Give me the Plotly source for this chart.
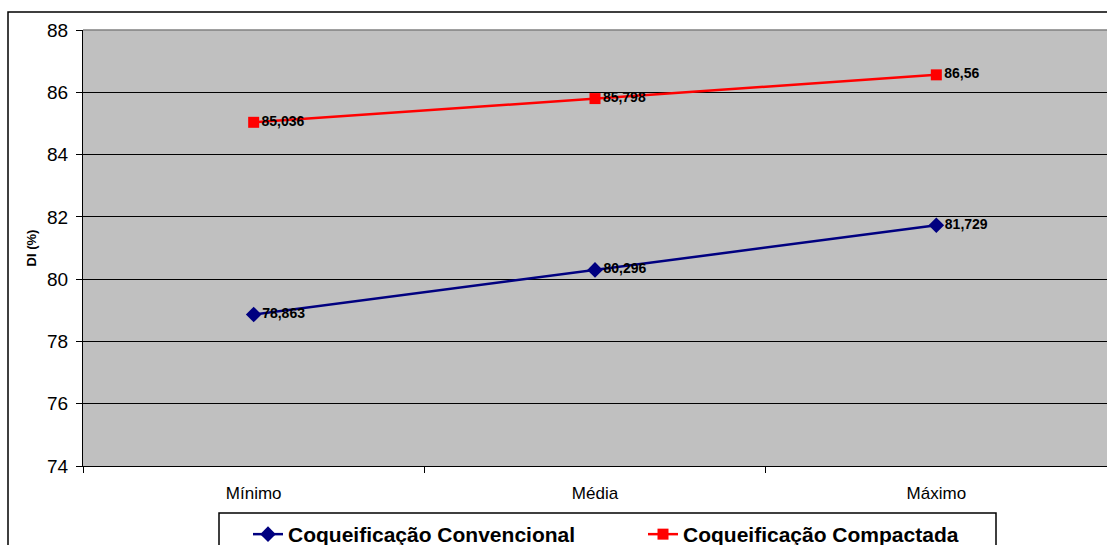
import plotly.graph_objects as go

# Categories and DI (%) values for the two coking processes
categories = ["Mínimo", "Média", "Máximo"]
convencional = [78.863, 80.296, 81.729]
compactada = [85.036, 85.798, 86.56]
series_names = ["Coqueificação Convencional", "Coqueificação Compactada"]
y_ticks = [74, 76, 78, 80, 82, 84, 86, 88]


def br(v):
    return f"{v}".replace(".", ",")


FONT = "Liberation Sans, Arial, sans-serif"

fig = go.Figure()
fig.add_trace(go.Scatter(
    x=categories, y=convencional, name=series_names[0],
    mode="lines+markers+text",
    line=dict(color="#000080", width=2.5),
    marker=dict(symbol="diamond", size=12, color="#000080"),
    text=[br(v) for v in convencional], textposition="middle right",
    textfont=dict(family=FONT, size=14, color="black", weight="bold"),
))
fig.add_trace(go.Scatter(
    x=categories, y=compactada, name=series_names[1],
    mode="lines+markers+text",
    line=dict(color="#FF0000", width=2.5),
    marker=dict(symbol="square", size=11, color="#FF0000"),
    text=[br(v) for v in compactada], textposition="middle right",
    textfont=dict(family=FONT, size=14, color="black", weight="bold"),
))

L, T, W, H = 83, 30, 1107, 545
pw, ph = W - L, 466 - T

fig.update_layout(
    width=W, height=H,
    margin=dict(l=L, r=0, t=T, b=H - 466, autoexpand=False),
    paper_bgcolor="white",
    plot_bgcolor="#C0C0C0",
    font=dict(family=FONT, color="black"),
    showlegend=True,
    legend=dict(
        orientation="h",
        x=(248 - L) / pw, xanchor="left",
        y=(466 - 514) / ph, yanchor="top",
        bgcolor="rgba(0,0,0,0)", borderwidth=0,
        font=dict(family=FONT, size=21, color="black", weight="bold"),
        entrywidth=350,
    ),
    xaxis=dict(
        type="category", range=[-0.5, 2.5],
        tickson="boundaries", ticks="outside", ticklen=6, tickcolor="black",
        showline=True, linecolor="black", linewidth=1,
        showgrid=False, automargin=False,
        tickfont=dict(family=FONT, size=17, color="black"),
        ticklabelstandoff=12,
    ),
    yaxis=dict(
        range=[74, 88], tickvals=y_ticks,
        ticks="outside", ticklen=6, tickcolor="black",
        showline=True, linecolor="black", linewidth=1,
        showgrid=True, gridcolor="black", gridwidth=1,
        zeroline=False, automargin=False,
        tickfont=dict(family=FONT, size=19, color="black"),
        ticklabelstandoff=4,
        title=dict(text="DI (%)", standoff=7,
                   font=dict(family=FONT, size=13, color="black", weight="bold")),
    ),
    shapes=[
        # plot area top edge
        dict(type="line", xref="paper", yref="paper", x0=0, x1=1, y0=1, y1=1,
             line=dict(color="#808080", width=1.5), layer="above"),
        # chart frame
        dict(type="rect", xref="paper", yref="paper",
             x0=(8 - L) / pw, x1=1.06, y0=-0.6, y1=(466 - 12) / ph,
             line=dict(color="black", width=1.5), layer="below"),
        # legend box
        dict(type="rect", xref="paper", yref="paper",
             x0=(219 - L) / pw, x1=(996 - L) / pw, y0=-0.5, y1=(466 - 513) / ph,
             line=dict(color="black", width=1.5), fillcolor="white", layer="below"),
    ],
)

fig.write_html("out.html")
